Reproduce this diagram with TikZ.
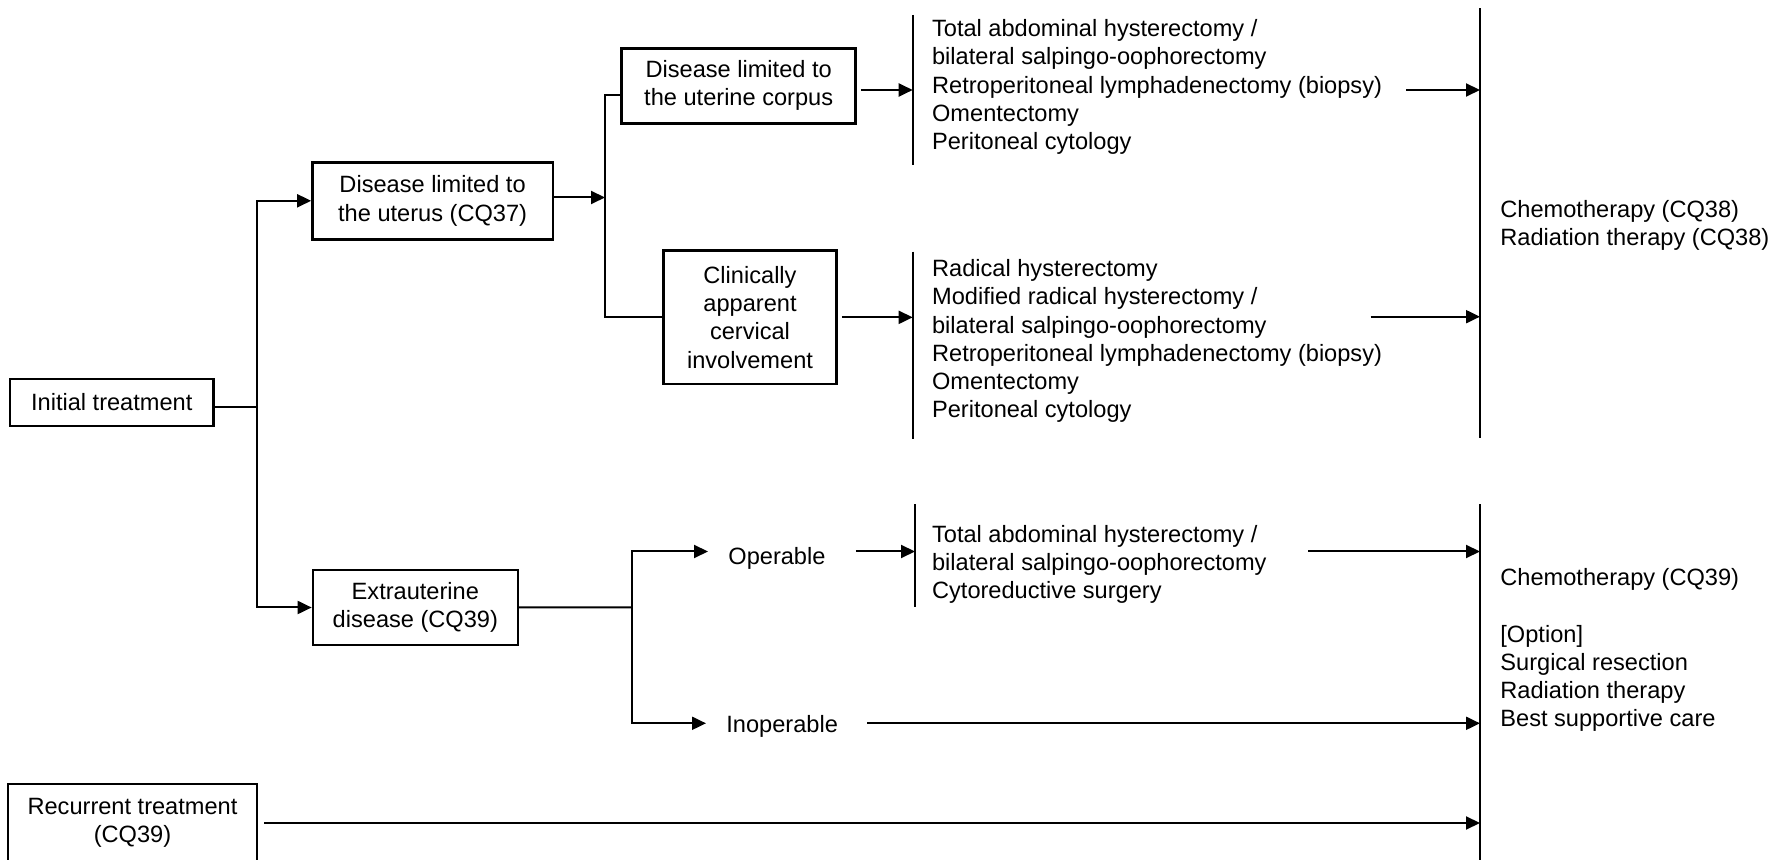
\documentclass[tikz,border=0pt]{standalone}
\usepackage{fontspec}
\setmainfont{Liberation Sans}
\usetikzlibrary{arrows.meta,calc}
\begin{document}
\begin{tikzpicture}[x=0.5pt,y=-0.5pt,
  every node/.style={font=\fontsize{11.8}{14.1}\selectfont},
  box/.style={draw,line width=1.25pt,inner sep=0pt,align=center},
  ln/.style={line width=1pt},
  arr/.style={line width=1pt,-{Triangle[length=7pt,width=6.5pt]}},
  lst/.style={anchor=west,align=left,inner sep=0pt},
  lbl/.style={anchor=west,inner xsep=10pt,inner ysep=0pt}]
\useasboundingbox (0,0) rectangle (1773,860);

% boxes
\node[box,minimum width=101.75pt,minimum height=23.5pt] (init) at (111.75,402.5) {Initial treatment};
\node[box,minimum width=120.2pt,minimum height=38.5pt] (uter) at (432.6,200.8) {Disease limited to\\the uterus (CQ37)};
\node[box,minimum width=102.45pt,minimum height=37.5pt] (extra) at (415.35,607.5) {Extrauterine\\disease (CQ39)};
\node[box,minimum width=117pt,minimum height=37.5pt] (corpus) at (738.7,85.8) {Disease limited to\\the uterine corpus};
\node[box,minimum width=86.7pt,minimum height=66.65pt] (clin) at (750,317.35) {Clinically\\apparent\\cervical\\involvement};
\node[box,minimum width=124.5pt,minimum height=39pt] (recur) at (132.5,823) {Recurrent treatment\\(CQ39)};

% labels
\node[lbl] (oper) at (708,558.4) {Operable};
\node[lbl] (inop) at (706,726.7) {Inoperable};

% lists
\node[lst] (list1) at (931.7,87) {Total abdominal hysterectomy /\\bilateral salpingo-oophorectomy\\Retroperitoneal lymphadenectomy (biopsy)\\Omentectomy\\Peritoneal cytology};
\node[lst] (list2) at (931.7,341.2) {Radical hysterectomy\\Modified radical hysterectomy /\\bilateral salpingo-oophorectomy\\Retroperitoneal lymphadenectomy (biopsy)\\Omentectomy\\Peritoneal cytology};
\node[lst] (list3) at (931.7,564.3) {Total abdominal hysterectomy /\\bilateral salpingo-oophorectomy\\Cytoreductive surgery};
\node[lst] (chem1) at (1500,225.5) {Chemotherapy (CQ38)\\Radiation therapy (CQ38)};
\node[lst] (chem2) at (1500,650) {Chemotherapy (CQ39)\\[14.1pt]{}[Option]\\Surgical resection\\Radiation therapy\\Best supportive care};

% coordinates
\coordinate (b1m) at (257,407);
\coordinate (u2) at (605,197.5);
\coordinate (b2t) at (605,95);
\coordinate (b2b) at (605,317.3);
\coordinate (b3m) at (631.5,607.3);
\coordinate (op1) at (631.5,551.5);
\coordinate (ip1) at (631.5,723.3);
\coordinate (bar1t) at (912.7,15);
\coordinate (bar1b) at (912.7,165);
\coordinate (a1) at (912.7,90);
\coordinate (bar2t) at (912.7,251.7);
\coordinate (bar2b) at (912.7,439.3);
\coordinate (bar3t) at (915,504.3);
\coordinate (bar3b) at (915,607.3);
\coordinate (rb1t) at (1480,8.3);
\coordinate (rb1b) at (1480,438);
\coordinate (rb2t) at (1480,504.3);
\coordinate (rb2b) at (1480,862);
\coordinate (s1) at (1406,90);
\coordinate (s2) at (1370.7,316.7);
\coordinate (s3) at (1308,551.5);

% vertical bars
\draw[ln] (bar1t) -- (bar1b);
\draw[ln] (bar2t) -- (bar2b);
\draw[ln] (bar3t) -- (bar3b);
\draw[ln] (rb1t) -- (rb1b);
\draw[ln] (rb2t) -- (rb2b);

% connectors
\draw[ln] (init.east |- b1m) -- (b1m);
\draw[arr] (b1m) |- (uter.west);
\draw[arr] (b1m) |- (extra.west);
\draw[arr] (uter.east |- u2) -- (u2);
\draw[ln] (b2t -| corpus.west) -- (b2t) -- (b2b) -- (b2b -| clin.west);
\draw[arr,shorten <=2pt] (corpus.east |- a1) -- (a1);
\draw[arr,shorten <=2pt] (clin.east) -- (clin.east -| bar2t);
\draw[ln] (extra.east) -- (b3m);
\draw[arr] (b3m) -- (op1) -- (op1 -| oper.west);
\draw[arr] (b3m) -- (ip1) -- (ip1 -| inop.west);
\draw[arr,shorten <=5pt] (oper.east |- op1) -- (op1 -| bar3t);
\draw[arr] (s1) -- (s1 -| rb1t);
\draw[arr] (s2) -- (s2 -| rb1t);
\draw[arr] (s3) -- (s3 -| rb2t);
\draw[arr,shorten <=4.5pt] (inop.east |- ip1) -- (ip1 -| rb2t);
\draw[arr,shorten <=3pt] (recur.east) -- (recur.east -| rb2t);
\end{tikzpicture}
\end{document}
